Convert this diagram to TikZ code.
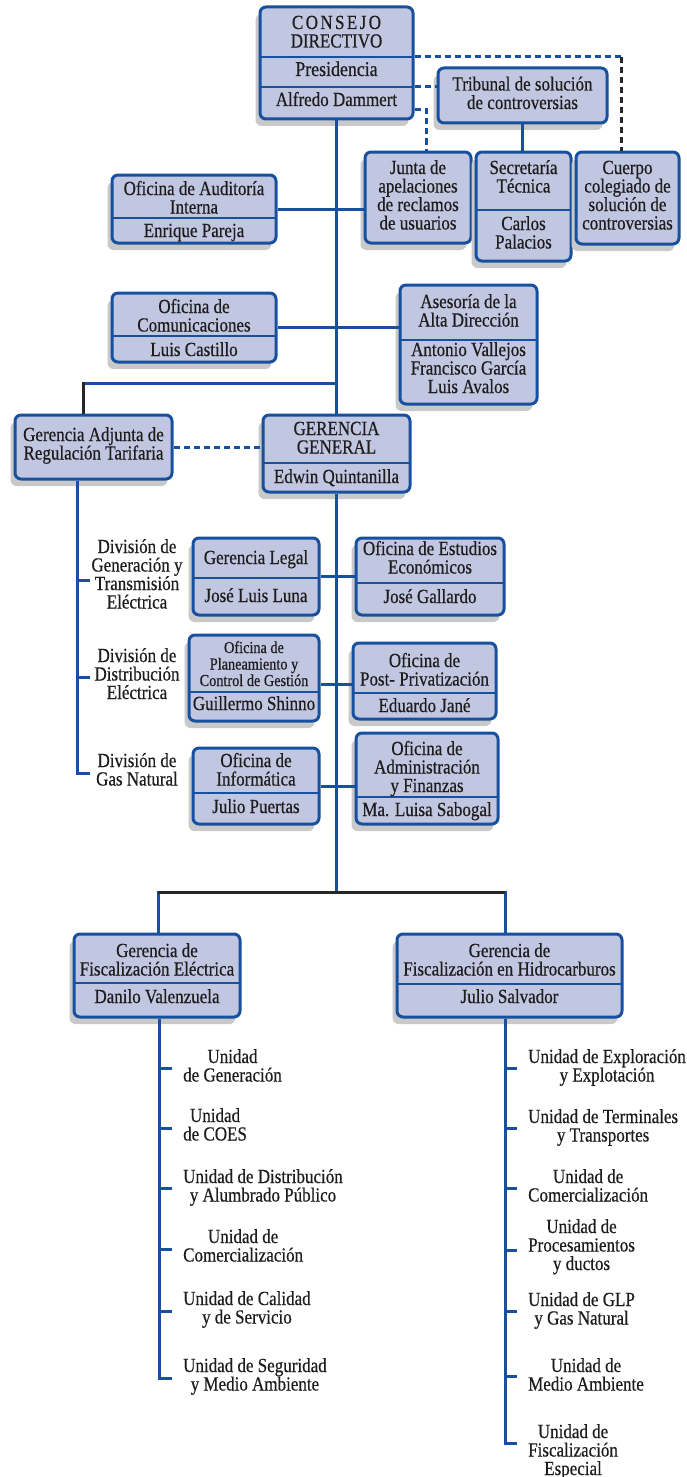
\documentclass[tikz,border=0pt]{standalone}
\usepackage{fontspec}
\setmainfont{Liberation Serif}[FakeStretch=0.85,FakeBold=0.5]
\usetikzlibrary{shadows,fit}
\definecolor{bl}{HTML}{17509E}
\definecolor{bxfill}{HTML}{C1C6E1}
\definecolor{shd}{HTML}{C9C9C9}
\definecolor{txtc}{HTML}{1E1C1D}
\newcommand\ml[1]{\vtop{\lineskiplimit=-100pt\let\\\cr\halign{\hfil##\hfil\cr#1\crcr}}}
\tikzset{
 bx/.style={draw=bl, line width=3pt, fill=bxfill, rounded corners=6pt, inner sep=0pt,
   drop shadow={shadow xshift=-4.5pt, shadow yshift=-7pt, fill=shd, opacity=1}},
 dv/.style={draw=bl, line width=1.5pt},
 ln/.style={draw=bl, line width=3pt},
 lnk/.style={draw=black!85, line width=3pt},
 dsh/.style={draw=bl, line width=3pt, dash pattern=on 6pt off 4pt},
 dshk/.style={dsh, draw=black!85},
 tx/.style={inner sep=0pt, text=txtc, font=\fontsize{20}{18.5}\selectfont, anchor=base},
 txs/.style={tx, font=\fontsize{16.8}{16.5}\selectfont},
}
\begin{document}
\begin{tikzpicture}[x=1pt,y=-1pt]
\useasboundingbox (0,0) rectangle (687,1477);
% boxes
\node[bx, fit={(260,7) (413,119)}] (cd) {};
\node[bx, fit={(438,68) (607,123)}] (tr) {};
\node[bx, fit={(365,152) (471,243)}] (ju) {};
\node[bx, fit={(476,152) (571,261)}] (se) {};
\node[bx, fit={(576,152) (679,244)}] (cu) {};
\node[bx, fit={(112,175) (276,243)}] (au) {};
\node[bx, fit={(112,293) (276,362)}] (co) {};
\node[bx, fit={(400,285) (537,404)}] (as) {};
\node[bx, fit={(15,415) (172,479)}] (ga) {};
\node[bx, fit={(263,415) (410,492)}] (gg) {};
\node[bx, fit={(193,538) (319,615)}] (gl) {};
\node[bx, fit={(356,538) (504,615)}] (ee) {};
\node[bx, fit={(189,635) (319,721)}] (pl) {};
\node[bx, fit={(353,643) (496,719)}] (pp) {};
\node[bx, fit={(193,748) (319,824)}] (inf) {};
\node[bx, fit={(356,733) (498,824)}] (ad) {};
\node[bx, fit={(74,934) (240,1017)}] (fe) {};
\node[bx, fit={(397,934) (622,1017)}] (fh) {};
% dividers
\draw[dv] (261,57) -- (412,57);
\draw[dv] (261,87) -- (412,87);
\draw[dv] (477,210) -- (570,210);
\draw[dv] (113,218) -- (275,218);
\draw[dv] (113,336) -- (275,336);
\draw[dv] (401,340) -- (536,340);
\draw[dv] (264,463) -- (409,463);
\draw[dv] (194,578) -- (318,578);
\draw[dv] (357,583) -- (503,583);
\draw[dv] (190,692) -- (318,692);
\draw[dv] (354,693) -- (495,693);
\draw[dv] (194,793) -- (318,793);
\draw[dv] (357,797) -- (497,797);
\draw[dv] (75,983) -- (239,983);
\draw[dv] (398,984) -- (621,984);
% connectors
\draw[ln] (cd.south) -- (gg.north);
\draw[ln] (au.east) -- (au.east -| ju.west);
\draw[ln] (co.east) -- (co.east -| as.west);
\coordinate (j2) at (83,383);
\draw[ln] (j2) -- (j2 -| cd.south);
\draw[lnk] ([yshift=1.5pt]j2) -- (j2 |- ga.north);
\draw[dsh] (ga.east) -- (ga.east -| gg.west);
\coordinate (gb) at (77,773);
\draw[ln] (ga.south -| gb) -- (gb) -- ++(13,0);
\draw[ln] (gb |- 0,580) -- ++(13,0);
\draw[ln] (gb |- 0,677) -- ++(13,0);
\draw[ln] (gl.east) -- (gl.east -| ee.west);
\coordinate (p1) at (319,684);
\draw[ln] (p1 -| pl.east) -- (p1 -| pp.west);
\draw[ln] (inf.east) -- (inf.east -| ad.west);
\coordinate (hl) at (158,892);
\coordinate (hr) at (505,892);
\draw[ln] (gg.south) -- (gg.south |- hl);
\draw[ln] ([yshift=1.5pt]hl) -- (hl |- fe.north);
\draw[ln] ([yshift=1.5pt]hr) -- (hr |- fh.north);
\draw[lnk] (hl) -- (hr);
\coordinate (q1) at (621,57);
\draw[dsh] (cd.east |- q1) -- (q1);
\draw[dshk] (q1) -- (q1 |- cu.north);
\coordinate (q2) at (438,87);
\draw[dsh] (cd.east |- q2) -- (q2);
\coordinate (q3) at (426,110);
\draw[dsh] (cd.east |- q3) -- (q3) -- (q3 |- ju.north);
\draw[ln] (tr.south) -- (tr.south |- se.north);
\coordinate (ul) at (159,1378);
\draw[ln] (fe.south -| ul) -- (ul) -- ++(13,0);
\foreach \yy in {1068,1128,1188,1249,1311} \draw[ln] (ul |- 0,\yy) -- ++(13,0);
\coordinate (ur) at (505,1443);
\draw[ln] (fh.south -| ur) -- (ur) -- ++(12,0);
\foreach \yy in {1068,1128,1188,1250,1311,1376} \draw[ln] (ur |- 0,\yy) -- ++(12,0);
% box texts
\node[tx] (t1) at (336.5,29) {\ml{{\addfontfeature{LetterSpace=12}CONSEJO}\\DIRECTIVO}};
\node[tx, font=\fontsize{21}{18.5}\selectfont] (t2) at (336.5,76) {Presidencia};
\node[tx] (t3) at (336.5,106) {Alfredo Dammert};
\node[tx] (t4) at (522.5,90.5) {\ml{Tribunal de solución\\de controversias}};
\node[tx] (t5) at (418,174) {\ml{Junta de\\apelaciones\\de reclamos\\de usuarios}};
\node[tx] (t6) at (523.5,174) {\ml{Secretaría\\Técnica}};
\node[tx] (t7) at (523.5,230) {\ml{Carlos\\Palacios}};
\node[tx] (t8) at (627.5,174) {\ml{Cuerpo\\colegiado de\\solución de\\controversias}};
\node[tx] (t9) at (194,195) {\ml{Oficina de Auditoría\\Interna}};
\node[tx] (t10) at (194,237) {Enrique Pareja};
\node[tx] (t11) at (194,313) {\ml{Oficina de\\Comunicaciones}};
\node[tx] (t12) at (194,356) {Luis Castillo};
\node[tx] (t13) at (468.5,308) {\ml{Asesoría de la\\Alta Dirección}};
\node[tx] (t14) at (468.5,356) {\ml{Antonio Vallejos\\Francisco García\\Luis Avalos}};
\node[tx] (t15) at (93.5,441) {\ml{Gerencia Adjunta de\\Regulación Tarifaria}};
\node[tx] (t16) at (336.5,435) {\ml{GERENCIA\\GENERAL}};
\node[tx] (t17) at (336.5,483) {Edwin Quintanilla};
\node[tx] (t18) at (256,564) {Gerencia Legal};
\node[tx] (t19) at (256,602) {José Luis Luna};
\node[tx] (t20) at (430,555) {\ml{Oficina de Estudios\\Económicos}};
\node[tx] (t21) at (430,603) {José Gallardo};
\node[txs] (t22) at (254,653) {\ml{Oficina de\\Planeamiento y\\Control de Gestión}};
\node[tx] (t23) at (254,710) {Guillermo Shinno};
\node[tx] (t24) at (424.5,667) {\ml{Oficina de\\Post- Privatización}};
\node[tx] (t25) at (424.5,712) {Eduardo Jané};
\node[tx] (t26) at (256,767) {\ml{Oficina de\\Informática}};
\node[tx] (t27) at (256,813) {Julio Puertas};
\node[tx] (t28) at (427,755) {\ml{Oficina de\\Administración\\y Finanzas}};
\node[tx] (t29) at (427,816) {Ma. Luisa Sabogal};
\node[tx] (t30) at (157,957) {\ml{Gerencia de\\Fiscalización Eléctrica}};
\node[tx] (t31) at (157,1003) {Danilo Valenzuela};
\node[tx] (t32) at (509.5,957) {\ml{Gerencia de\\Fiscalización en Hidrocarburos}};
\node[tx] (t33) at (509.5,1003) {Julio Salvador};
% division labels
\node[tx] (v1) at (137,553) {\ml{División de\\Generación y\\Transmisión\\Eléctrica}};
\node[tx] (v2) at (137,662) {\ml{División de\\Distribución\\Eléctrica}};
\node[tx] (v3) at (137,767) {\ml{División de\\Gas Natural}};
% unit labels
\node[tx, anchor=base west] (l1) at (183,1063) {\ml{Unidad\\de Generación}};
\node[tx, anchor=base west] (l2) at (183,1122) {\ml{Unidad\\de COES}};
\node[tx, anchor=base west] (l3) at (183,1183) {\ml{Unidad de Distribución\\y Alumbrado Público}};
\node[tx, anchor=base west] (l4) at (183,1243) {\ml{Unidad de\\Comercialización}};
\node[tx, anchor=base west] (l5) at (183,1305) {\ml{Unidad de Calidad\\y de Servicio}};
\node[tx, anchor=base west] (l6) at (183,1372) {\ml{Unidad de Seguridad\\y Medio Ambiente}};
\node[tx, anchor=base west] (r1) at (528,1063) {\ml{Unidad de Exploración\\y Explotación}};
\node[tx, anchor=base west] (r2) at (528,1123) {\ml{Unidad de Terminales\\y Transportes}};
\node[tx, anchor=base west] (r3) at (528,1183) {\ml{Unidad de\\Comercialización}};
\node[tx, anchor=base west] (r4) at (528,1233) {\ml{Unidad de\\Procesamientos\\y ductos}};
\node[tx, anchor=base west] (r5) at (528,1306) {\ml{Unidad de GLP\\y Gas Natural}};
\node[tx, anchor=base west] (r6) at (528,1372) {\ml{Unidad de\\Medio Ambiente}};
\node[tx, anchor=base west] (r7) at (528,1438) {\ml{Unidad de\\Fiscalización\\Especial}};
\end{tikzpicture}
\end{document}
